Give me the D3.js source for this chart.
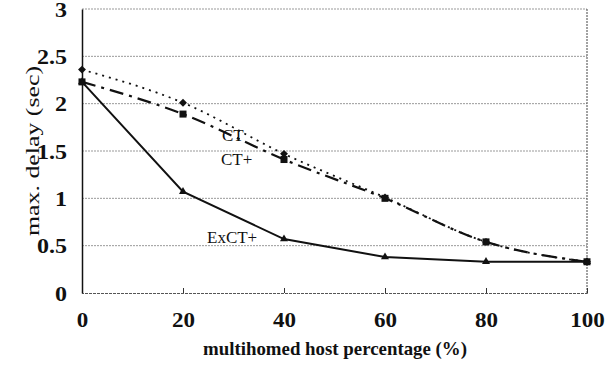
<html>
<head>
<style>
body{ margin:0; background:#fff; }
.tick text{ font-family:"Liberation Serif",serif; font-weight:bold; font-size:20px; fill:#111; }
.grid{ stroke:#999; stroke-width:1px; stroke-dasharray:2,1; }
.series{ fill:none; stroke:#111; }
.label{ font-family:"Liberation Serif",serif; font-size:17px; fill:#111; }
.title{ font-family:"Liberation Serif",serif; font-size:19px; fill:#111; }
</style>
</head>
<body>
<script src="https://cdn.jsdelivr.net/npm/d3@7"></script>
<script>

var width = 611;
var height = 365;

var xVals = [0, 20, 40, 60, 80, 100];
var ct     = [2.36, 2.01, 1.47, 1.01, 0.54, 0.33];
var ctPlus = [2.23, 1.89, 1.41, 1.00, 0.54, 0.33];
var exct   = [2.23, 1.07, 0.57, 0.38, 0.33, 0.33];
var yTicks = [0, 0.5, 1, 1.5, 2, 2.5, 3];

var margin = {left:82, right:24, top:9, bottom:72};

var svg = d3.select("body").append("svg")
	.attr("width",width)
	.attr("height",height);

var x = d3.scaleLinear().domain([0,100]).range([margin.left, width - margin.right]);
var y = d3.scaleLinear().domain([0,3]).range([height - margin.bottom, margin.top]);

// widen text a bit, the scanned fonts are stretched
function stretch(sel, k){
	sel.each(function(){
		var w = this.getComputedTextLength();
		d3.select(this).attr("textLength", w * k).attr("lengthAdjust","spacingAndGlyphs");
	});
}

// grid
svg.selectAll(".grid").data(yTicks.slice(1)).enter().append("line")
	.attr("class","grid")
	.attr("x1",x(0)).attr("x2",x(100))
	.attr("y1",function(d){ return y(d); })
	.attr("y2",function(d){ return y(d); });

// right border
svg.append("line")
	.attr("x1",x(100)).attr("x2",x(100))
	.attr("y1",y(0)).attr("y2",y(3))
	.attr("stroke","#444").attr("stroke-dasharray","2,1");

// bottom axis
var xAxis = svg.append("g")
	.attr("transform","translate(0,"+y(0)+")")
	.call(d3.axisBottom(x).tickValues(xVals).tickSize(-5).tickPadding(20).tickFormat(d3.format("d")));
xAxis.select(".domain").attr("stroke","#555").attr("stroke-dasharray","3,1");
xAxis.selectAll(".tick line").attr("stroke","#333");
stretch(xAxis.selectAll(".tick text"), 1.15);

// left axis
var yAxis = svg.append("g")
	.attr("transform","translate("+x(0)+",0)")
	.call(d3.axisLeft(y).tickValues(yTicks).tickSize(0).tickPadding(15).tickFormat(function(d){ return d; }));
yAxis.select(".domain").attr("stroke","#111").attr("stroke-width",1.5);
yAxis.selectAll(".tick text").attr("dy","0.35em");
stretch(yAxis.selectAll(".tick text"), 1.2);

var smooth = d3.line()
	.x(function(d,i){ return x(xVals[i]); })
	.y(function(d){ return y(d); })
	.curve(d3.curveMonotoneX);

var straight = d3.line()
	.x(function(d,i){ return x(xVals[i]); })
	.y(function(d){ return y(d); });

// CT dotted
svg.append("path").attr("class","series").datum(ct)
	.attr("d",smooth).attr("stroke-width",1.8).attr("stroke-dasharray","2,5");
svg.selectAll(".dia").data(ct).enter().append("path")
	.attr("transform",function(d,i){ return "translate("+x(xVals[i])+","+y(d)+") rotate(45)"; })
	.attr("d","M-2.8,-2.8h5.6v5.6h-5.6z").attr("fill","#111");

// CT+ dash-dot
svg.append("path").attr("class","series").datum(ctPlus)
	.attr("d",smooth).attr("stroke-width",2.2).attr("stroke-dasharray","14,6,3,6");
svg.selectAll(".sq").data(ctPlus).enter().append("rect")
	.attr("x",function(d,i){ return x(xVals[i]) - 3.5; })
	.attr("y",function(d){ return y(d) - 3.5; })
	.attr("width",7).attr("height",7).attr("fill","#111");

// ExCT+ solid
svg.append("path").attr("class","series").datum(exct)
	.attr("d",straight).attr("stroke-width",2);
svg.selectAll(".tri").data(exct).enter().append("path")
	.attr("transform",function(d,i){ return "translate("+x(xVals[i])+","+y(d)+")"; })
	.attr("d",d3.symbol().type(d3.symbolTriangle).size(28)).attr("fill","#111");

// series labels
svg.append("text").attr("class","label").attr("x",222).attr("y",141).text("CT");
svg.append("text").attr("class","label").attr("x",221).attr("y",165).text("CT+");
svg.append("text").attr("class","label").attr("x",207).attr("y",243).text("ExCT+");

// axis titles
svg.append("text").attr("class","title")
	.attr("x",335).attr("y",355).attr("font-weight","bold")
	.attr("text-anchor","middle").attr("textLength",264).attr("lengthAdjust","spacingAndGlyphs")
	.text("multihomed host percentage (%)");
svg.append("text").attr("class","title")
	.attr("transform","translate(39,151) rotate(-90)")
	.attr("text-anchor","middle").attr("textLength",170).attr("lengthAdjust","spacingAndGlyphs")
	.text("max. delay (sec)");

</script>
</body>
</html>
